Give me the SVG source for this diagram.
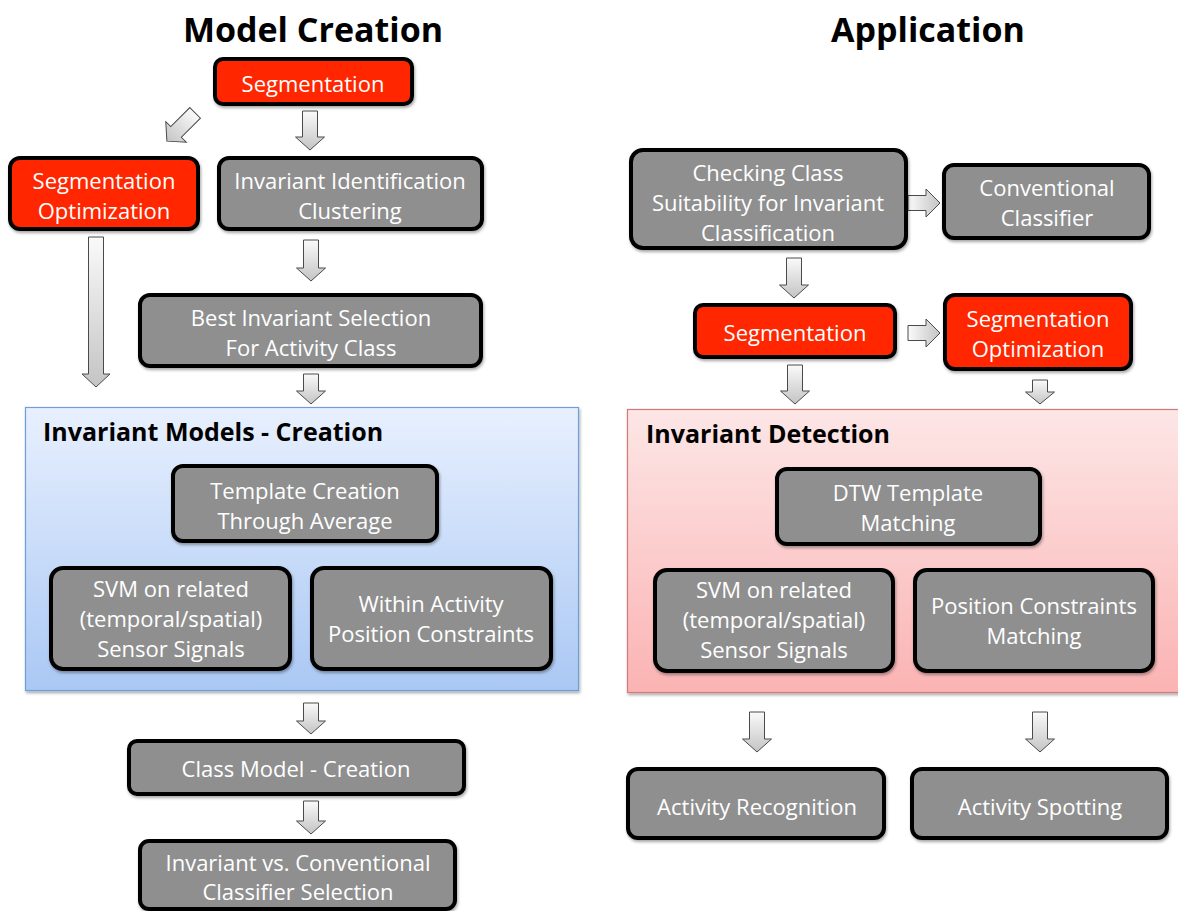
<svg xmlns="http://www.w3.org/2000/svg" width="1178" height="911" viewBox="0 0 1178 911">
<defs>
<linearGradient id="blueG" x1="0" y1="0" x2="0" y2="1"><stop offset="0" stop-color="#e8f0fe"/><stop offset="1" stop-color="#aac8f4"/></linearGradient>
<linearGradient id="pinkG" x1="0" y1="0" x2="0" y2="1"><stop offset="0" stop-color="#fde6e6"/><stop offset="1" stop-color="#fbb3b3"/></linearGradient>
<linearGradient id="arrG" x1="0" y1="0" x2="0" y2="1"><stop offset="0" stop-color="#fafafa"/><stop offset="1" stop-color="#c4c4c4"/></linearGradient>
<linearGradient id="arrH" x1="0" y1="0" x2="1" y2="0"><stop offset="0" stop-color="#fafafa"/><stop offset="1" stop-color="#c4c4c4"/></linearGradient>
<filter id="sh" x="-10%" y="-10%" width="120%" height="130%"><feDropShadow dx="1" dy="2" stdDeviation="1.5" flood-color="#000" flood-opacity="0.35"/></filter>
</defs>
<style>
.box{stroke:#000;stroke-width:4;filter:url(#sh)}
.g{fill:#8f8f8f}
.r{fill:#ff2600}
.t{font-family:"Open Sans","Liberation Sans",sans-serif;font-size:22px;fill:#fff;text-anchor:middle}
.title{font-family:"Open Sans","Liberation Sans",sans-serif;font-size:34px;font-weight:bold;fill:#000;text-anchor:middle}
.ptitle{font-family:"Open Sans","Liberation Sans",sans-serif;font-size:25px;font-weight:bold;fill:#000}
.arr{fill:url(#arrG);stroke:#4a4a4a;stroke-width:1}
.arrh{fill:url(#arrH);stroke:#4a4a4a;stroke-width:1}
</style>
<rect width="1178" height="911" fill="#fff"/>
<text class="title" x="313" y="42">Model Creation</text>
<text class="title" x="928" y="42">Application</text>

<g id="panel-models">
<rect x="25.5" y="407.5" width="553" height="283" fill="url(#blueG)" stroke="#6e9fd8" stroke-width="1.2" filter="url(#sh)"/>
<text class="ptitle" x="43" y="441">Invariant Models - Creation</text>
</g>
<g id="panel-detection">
<rect x="627.5" y="409.5" width="560" height="283" fill="url(#pinkG)" stroke="#d37a7a" stroke-width="1.2" filter="url(#sh)"/>
<text class="ptitle" x="646" y="443">Invariant Detection</text>
</g>

<g id="connectors">
<path class="arr" d="M302.5 111H317.5V137H324.5L310 150L295.5 137H302.5Z"/>
<path class="arr" transform="translate(181 127) rotate(45)" d="M-7.5 -20H7.5V7H14.5L0 20L-14.5 7H-7.5Z"/>
<path class="arr" d="M88.5 237H103.5V374H110L96 387L82 374H88.5Z"/>
<path class="arr" d="M303.5 240H318.5V268H325.5L311 281L296.5 268H303.5Z"/>
<path class="arr" d="M303.5 374H318.5V391H325.5L311 404L296.5 391H303.5Z"/>
<path class="arr" d="M303.5 703H318.5V721H325.5L311 734L296.5 721H303.5Z"/>
<path class="arr" d="M303.5 801H318.5V821H325.5L311 834L296.5 821H303.5Z"/>
<path class="arr" d="M786.5 258H801.5V285H808.5L794 298L779.5 285H786.5Z"/>
<path class="arr" d="M787.5 365H802.5V391H809.5L795 404L780.5 391H787.5Z"/>
<path class="arr" d="M1032.5 380H1047.5V392H1054.5L1040 404L1025.5 392H1032.5Z"/>
<path class="arr" d="M749.5 712H764.5V739H771.5L757 752L742.5 739H749.5Z"/>
<path class="arr" d="M1032.5 712H1047.5V739H1054.5L1040 752L1025.5 739H1032.5Z"/>
<path class="arrh" d="M908 195.5H926V189L940 203L926 217V210.5H908Z"/>
<path class="arrh" d="M908 325.5H926V319L940 333L926 347V340.5H908Z"/>
</g>

<g id="seg-top"><rect class="box r" x="215" y="59" width="197" height="45" rx="8"/><text class="t" x="313" y="92">Segmentation</text></g>
<g id="segopt-left"><rect class="box r" x="10" y="158" width="188" height="71" rx="10"/><text class="t" x="104" y="189">Segmentation<tspan x="104" y="219">Optimization</tspan></text></g>
<g id="inv-ident"><rect class="box g" x="219" y="158" width="263" height="71" rx="10"/><text class="t" x="350" y="189">Invariant Identification<tspan x="350" y="219">Clustering</tspan></text></g>
<g id="best-inv"><rect class="box g" x="140" y="295" width="341" height="71" rx="10"/><text class="t" x="311" y="326">Best Invariant Selection<tspan x="311" y="356">For Activity Class</tspan></text></g>
<g id="template"><rect class="box g" x="173" y="466" width="264" height="75" rx="10"/><text class="t" x="305" y="499">Template Creation<tspan x="305" y="529">Through Average</tspan></text></g>
<g id="svm-left"><rect class="box g" x="51" y="568" width="239" height="101" rx="12"/><text class="t" x="171" y="597">SVM on related<tspan x="171" y="627">(temporal/spatial)</tspan><tspan x="171" y="657">Sensor Signals</tspan></text></g>
<g id="within"><rect class="box g" x="312" y="568" width="239" height="101" rx="12"/><text class="t" x="431" y="612">Within Activity<tspan x="431" y="642">Position Constraints</tspan></text></g>
<g id="class-model"><rect class="box g" x="129" y="741" width="335" height="53" rx="8"/><text class="t" x="296" y="777">Class Model - Creation</text></g>
<g id="inv-vs"><rect class="box g" x="140" y="841" width="315" height="68" rx="9"/><text class="t" x="298" y="871">Invariant vs. Conventional<tspan x="298" y="900">Classifier Selection</tspan></text></g>

<g id="checking"><rect class="box g" x="631" y="150" width="275" height="98" rx="12"/><text class="t" x="768" y="181">Checking Class<tspan x="768" y="211">Suitability for Invariant</tspan><tspan x="768" y="241">Classification</tspan></text></g>
<g id="conventional"><rect class="box g" x="944" y="165" width="205" height="73" rx="10"/><text class="t" x="1047" y="196">Conventional<tspan x="1047" y="226">Classifier</tspan></text></g>
<g id="seg-right"><rect class="box r" x="695" y="305" width="200" height="52" rx="8"/><text class="t" x="795" y="341">Segmentation</text></g>
<g id="segopt-right"><rect class="box r" x="945" y="295" width="186" height="74" rx="10"/><text class="t" x="1038" y="327">Segmentation<tspan x="1038" y="357">Optimization</tspan></text></g>
<g id="dtw"><rect class="box g" x="777" y="469" width="263" height="75" rx="10"/><text class="t" x="908" y="501">DTW Template<tspan x="908" y="531">Matching</tspan></text></g>
<g id="svm-right"><rect class="box g" x="655" y="570" width="238" height="101" rx="12"/><text class="t" x="774" y="598">SVM on related<tspan x="774" y="628">(temporal/spatial)</tspan><tspan x="774" y="658">Sensor Signals</tspan></text></g>
<g id="pos-con"><rect class="box g" x="915" y="570" width="238" height="101" rx="12"/><text class="t" x="1034" y="614">Position Constraints<tspan x="1034" y="644">Matching</tspan></text></g>
<g id="act-rec"><rect class="box g" x="628" y="769" width="256" height="69" rx="10"/><text class="t" x="757" y="815">Activity Recognition</text></g>
<g id="act-spot"><rect class="box g" x="912" y="769" width="255" height="69" rx="10"/><text class="t" x="1040" y="815">Activity Spotting</text></g>
</svg>
